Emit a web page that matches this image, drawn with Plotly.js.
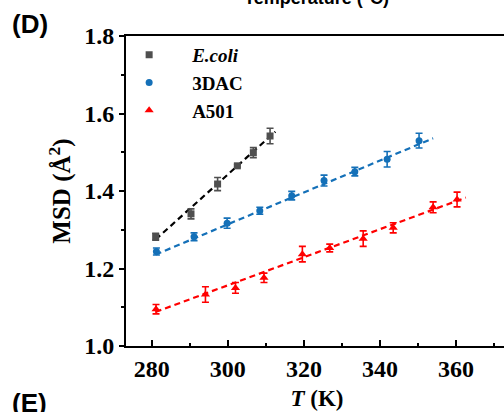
<!DOCTYPE html>
<html>
<head>
<meta charset="utf-8">
<script src="https://cdn.plot.ly/plotly-3.0.1.min.js"></script>
<style>
html,body{margin:0;padding:0;overflow:hidden;background:#fff;}
#chart{width:508px;height:412px;}
</style>
</head>
<body>
<div id="chart"></div>
<script>
// Data
const ecoliT   = [281.0, 290.3, 297.3, 302.5, 306.7, 311.1];
const ecoliMSD = [1.282, 1.341, 1.418, 1.465, 1.499, 1.542];
const ecoliErr = [0.009, 0.013, 0.017, 0.003, 0.013, 0.020];

const dac3T   = [281.2, 291.1, 299.8, 308.4, 316.8, 325.3, 333.4, 341.9, 350.3];
const dac3MSD = [1.244, 1.282, 1.317, 1.349, 1.388, 1.427, 1.450, 1.482, 1.530];
const dac3Err = [0.009, 0.010, 0.013, 0.009, 0.011, 0.014, 0.011, 0.020, 0.019];

const a501T   = [281.1, 294.1, 302.0, 309.5, 319.6, 326.8, 335.6, 343.5, 354.0, 360.3];
const a501MSD = [1.095, 1.133, 1.150, 1.176, 1.237, 1.253, 1.277, 1.305, 1.358, 1.378];
const a501Err = [0.012, 0.020, 0.014, 0.012, 0.020, 0.010, 0.020, 0.013, 0.014, 0.019];

// Linear fit lines (end points)
const ecoliFitT = [281.0, 312.5], ecoliFitMSD = [1.275, 1.553];
const dac3FitT  = [281.0, 354.0], dac3FitMSD  = [1.236, 1.536];
const a501FitT  = [281.0, 362.6], a501FitMSD  = [1.088, 1.383];

const seriesNames = ['<i>E.coli</i>', '3DAC', 'A501'];
const xTicks = [280, 300, 320, 340, 360];
const yTicks = [1.0, 1.2, 1.4, 1.6, 1.8];

const cGray = '#4f4f4f', cBlue = '#1470b8', cRed = '#ff0000';
const serif = '"Liberation Serif", "Times New Roman", serif';
const sans = '"Liberation Sans", Arial, sans-serif';

function fit(x, y, color) {
  return {x: x, y: y, type: 'scatter', mode: 'lines', showlegend: false, hoverinfo: 'skip',
    line: {color: color, width: 2.2, dash: '6px,4px'}};
}
function pts(x, y, e, name, color, symbol, size) {
  return {x: x, y: y, type: 'scatter', mode: 'markers', name: name,
    marker: {color: color, symbol: symbol, size: size},
    error_y: {type: 'data', array: e, visible: true, color: color, thickness: 1.6, width: 3.5}};
}

const traces = [
  fit(ecoliFitT, ecoliFitMSD, '#000000'),
  fit(dac3FitT, dac3FitMSD, cBlue),
  fit(a501FitT, a501FitMSD, cRed),
  pts(ecoliT, ecoliMSD, ecoliErr, seriesNames[0], cGray, 'square', 7),
  pts(dac3T, dac3MSD, dac3Err, seriesNames[1], cBlue, 'circle', 7),
  pts(a501T, a501MSD, a501Err, seriesNames[2], cRed, 'triangle-up', 8)
];

const layout = {
  width: 508, height: 412,
  margin: {l: 126, r: 0, t: 36, b: 66},
  paper_bgcolor: '#ffffff', plot_bgcolor: '#ffffff',
  showlegend: true,
  legend: {x: -0.052, y: 1.0, xanchor: 'left', yanchor: 'top', bgcolor: 'rgba(0,0,0,0)',
    font: {family: serif, size: 19, color: '#000', weight: 'bold'}, traceorder: 'normal',
    itemwidth: 76, tracegroupgap: 0},
  xaxis: {
    range: [273.2, 373.7], tickvals: xTicks, ticktext: xTicks.map(String),
    ticks: 'inside', ticklen: 6, tickwidth: 2, tickcolor: '#000',
    showline: true, linewidth: 2, linecolor: '#000', mirror: true,
    showgrid: false, zeroline: false,
    minor: {dtick: 10, tick0: 270, ticks: 'inside', ticklen: 3, tickwidth: 2, tickcolor: '#000', showgrid: false},
    tickfont: {family: serif, size: 24, color: '#000', weight: 'bold'},
    title: {text: '<i>T</i> (K)', font: {family: serif, size: 23, color: '#000', weight: 'bold'}, standoff: 9}
  },
  yaxis: {
    range: [1.0, 1.8], tickvals: yTicks, ticktext: yTicks.map(v => v.toFixed(1)),
    ticks: 'outside', ticklen: 5, tickwidth: 2, tickcolor: '#000',
    showline: true, linewidth: 2, linecolor: '#000', mirror: true,
    showgrid: false, zeroline: false,
    minor: {dtick: 0.1, tick0: 1.0, ticks: 'outside', ticklen: 3, tickwidth: 2, tickcolor: '#000', showgrid: false},
    tickfont: {family: serif, size: 24, color: '#000', weight: 'bold'},
    title: {text: 'MSD (Å<sup>2</sup>)', font: {family: serif, size: 25, color: '#000', weight: 'bold'}, standoff: 6}
  },
  annotations: [
    {text: '(D)', xref: 'paper', yref: 'paper', x: (10 - 126) / 382, y: 1 + (36 - 24) / 310, xanchor: 'left', yanchor: 'middle',
      showarrow: false, font: {family: sans, size: 26, color: '#000', weight: 'bold'}},
    {text: '(E)', xref: 'paper', yref: 'paper', x: (10 - 126) / 382, y: -(386 - 346) / 310, xanchor: 'left', yanchor: 'top',
      showarrow: false, font: {family: sans, size: 26, color: '#000', weight: 'bold'}},
    {text: 'Temperature (°C)', xref: 'paper', yref: 'paper', x: (316 - 126) / 382, y: 1 + (36 - 10) / 310,
      xanchor: 'center', yanchor: 'bottom', showarrow: false,
      font: {family: sans, size: 18, color: '#000', weight: 'bold'}}
  ]
};

Plotly.newPlot('chart', traces, layout, {displayModeBar: false, staticPlot: true});
</script>
</body>
</html>
